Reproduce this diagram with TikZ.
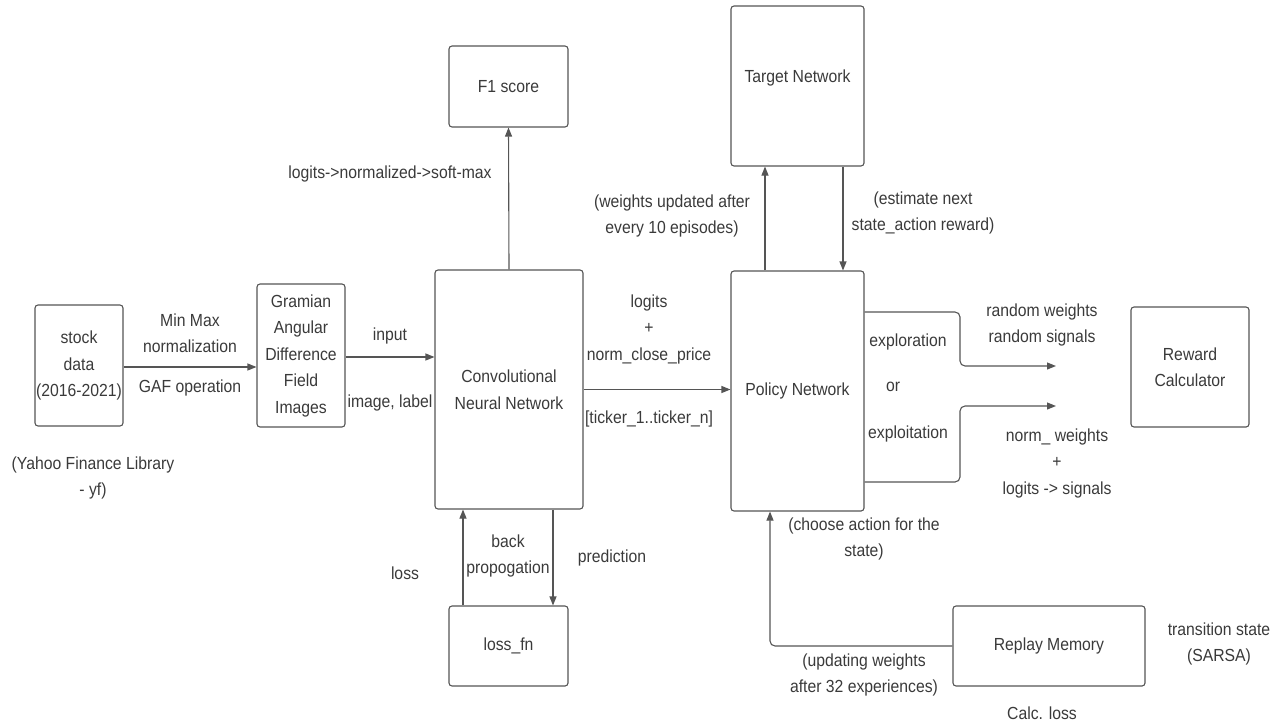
\documentclass[tikz,border=0pt]{standalone}
\usepackage{fontspec}
\setmainfont[FakeStretch=0.9]{Liberation Sans}
\usetikzlibrary{arrows.meta}
\definecolor{txtgray}{HTML}{3A3A3A}
\definecolor{linegray}{HTML}{555555}

\tikzset{
  blk/.style={draw=linegray, line width=1.1pt, rounded corners=3pt, align=center, inner sep=1pt},
  lbl/.style={align=center, inner sep=0pt},
  arr/.style={draw=linegray, line width=1.1pt, -{Triangle[length=9pt,width=7pt]}}
}

\begin{document}
\begin{tikzpicture}[x=1pt, y=-1pt, font=\fontsize{17.5}{26.5}\selectfont, text=txtgray]
\useasboundingbox (0,0) rectangle (1288,725);

% Draw the boxes
  \node[blk, minimum width=88, minimum height=121] (stock) at (79,365.5) {stock\\data\\(2016-2021)};
  \node[blk, minimum width=88, minimum height=143] (gaf) at (301,355.5) {Gramian\\Angular\\Difference\\Field\\Images};
  \node[blk, minimum width=148, minimum height=239] (cnn) at (509,389.5) {Convolutional\\Neural Network};
  \node[blk, minimum width=119, minimum height=81] (fone) at (508.5,86.5) {F1 score};
  \node[blk, minimum width=119, minimum height=80] (lossfn) at (508.5,646) {loss\_fn};
  \node[blk, minimum width=133, minimum height=160] (target) at (797.5,86) {Target Network\\[-6pt]};
  \node[blk, minimum width=133, minimum height=240] (policy) at (797.5,391) {Policy Network};
  \node[blk, minimum width=118, minimum height=120] (reward) at (1190,367) {Reward\\Calculator};
  \node[blk, minimum width=192, minimum height=80] (replay) at (1049,646) {Replay Memory};

% Draw the arrows
  \draw[arr] (stock.east |- 0,367) -- (gaf.west |- 0,367);
  \draw[arr] (gaf.east |- 0,357) -- (cnn.west |- 0,357);
  \draw[arr] (cnn.east) -- (cnn.east -| policy.west);
  \draw[arr] (cnn.north) -- (fone.south);
  \draw[arr] (lossfn.north -| 463,0) -- (cnn.south -| 463,0);
  \draw[arr] (cnn.south -| 553,0) -- (lossfn.north -| 553,0);
  \draw[arr] (policy.north -| 765,0) -- (target.south -| 765,0);
  \draw[arr] (target.south -| 843,0) -- (policy.north -| 843,0);
  \draw[arr, rounded corners=5pt] (replay.west) -| (policy.south -| 770,0);

% exploration / exploitation branches
  \coordinate (explore) at (1056,366);
  \coordinate (exploit) at (1056,406);
  \draw[arr, rounded corners=5pt] (policy.east |- 0,312) -- (960,312) -- (960,366) -- (explore);
  \draw[arr, rounded corners=5pt] (policy.east |- 0,482) -- (960,482) -- (960,406) -- (exploit);

% Draw the labels
  \node[lbl] (minmax) at (190,333) {Min Max\\normalization};
  \node[lbl] (gafop) at (190,388) {GAF operation};
  \node[lbl] (yahoo) at (93,478) {(Yahoo Finance Library\\- yf)};
  \node[lbl] (input) at (390,336) {input};
  \node[lbl] (imglabel) at (390,403) {image, label};
  \node[lbl] (softmax) at (390,174) {logits->normalized->soft-max};
  \node[lbl] (logits) at (649,329) {logits\\+\\norm\_close\_price};
  \node[lbl] (ticker) at (649,419) {[ticker\_1..ticker\_n]};
  \node[lbl] (backprop) at (508,556) {back\\propogation};
  \node[lbl] (loss) at (405,573) {loss};
  \node[lbl] (prediction) at (612,558) {prediction};
  \node[lbl] (wupdated) at (672,216) {(weights updated after\\every 10 episodes)};
  \node[lbl] (estimate) at (923,213) {(estimate next\\state\_action reward)};
  \node[lbl] (exploration) at (908,342) {exploration};
  \node[lbl] (orlbl) at (893,387) {or};
  \node[lbl] (exploitation) at (908,434) {exploitation};
  \node[lbl] (random) at (1042,325) {random weights\\random signals};
  \node[lbl] (normw) at (1057,463) {norm\_ weights\\+\\logits -> signals};
  \node[lbl] (choose) at (864,539) {(choose action for the\\state)};
  \node[lbl] (updating) at (864,675) {(updating weights\\after 32 experiences)};
  \node[lbl] (transition) at (1219,644) {transition state\\(SARSA)};
  \node[lbl] (calc) at (1042,713) {Calc. loss};

\end{tikzpicture}
\end{document}
